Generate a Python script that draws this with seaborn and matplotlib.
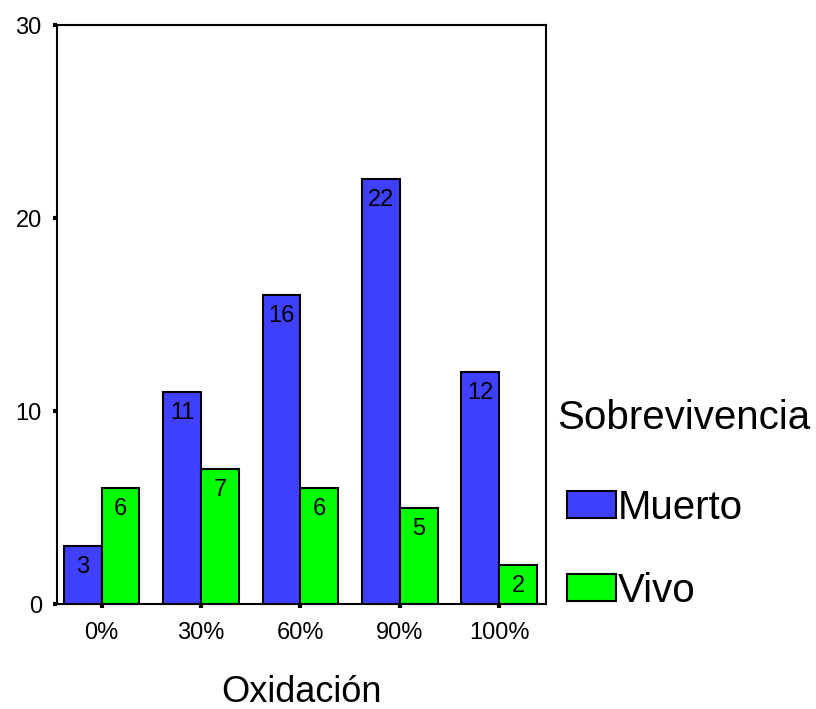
import matplotlib
matplotlib.use("Agg")
import matplotlib.pyplot as plt
import seaborn as sns
import pandas as pd

# Counts of survival outcome by oxidation level
oxidacion = ["0%", "30%", "60%", "90%", "100%"]
muerto = [3, 11, 16, 22, 12]
vivo = [6, 7, 6, 5, 2]
grupos = ["Muerto", "Vivo"]
colores = ["#4040FF", "#00FF00"]

df = pd.DataFrame({
    "Oxidación": oxidacion * 2,
    "n": muerto + vivo,
    "Sobrevivencia": [grupos[0]] * len(oxidacion) + [grupos[1]] * len(oxidacion),
})

sns.set_theme(style="white")
plt.rcParams["font.family"] = ["Liberation Sans", "DejaVu Sans"]
plt.rcParams["text.color"] = "black"
plt.rcParams["axes.labelcolor"] = "black"
plt.rcParams["xtick.color"] = "black"
plt.rcParams["ytick.color"] = "black"

fig = plt.figure(figsize=(8.16, 7.09), dpi=100)
ax = fig.add_axes([0.0699, 0.148, 0.599, 0.8167])

sns.barplot(data=df, x="Oxidación", y="n", hue="Sobrevivencia",
            order=oxidacion, hue_order=grupos, palette=colores,
            saturation=1, width=0.76, gap=0, edgecolor="black",
            linewidth=1.5, errorbar=None, legend=False, ax=ax)

for cont in ax.containers:
    ax.bar_label(cont, labels=[f"{int(v)}" for v in cont.datavalues],
                 label_type="edge", padding=-23, fontsize=17, color="black")

ax.set_ylim(0, 30)
ax.set_xlim(-0.45, 4.47)
ax.set_yticks([0, 10, 20, 30])
ax.tick_params(axis="both", direction="out", length=3, width=3, color="black",
               labelsize=17, left=True, bottom=True)
ax.tick_params(axis="y", pad=8)
ax.tick_params(axis="x", pad=10)
for s in ax.spines.values():
    s.set_visible(True)
    s.set_color("black")
    s.set_linewidth(1.5)

ax.set_ylabel("")
ax.set_xlabel("Oxidación", fontsize=26, labelpad=22)

# legend: title text plus colour swatches
fig.text(557 / 816, 1 - 418 / 709, "Sobrevivencia", fontsize=29,
         ha="left", va="center")
handles = [plt.Rectangle((0, 0), 1, 1, facecolor=c, edgecolor="black",
                         linewidth=1.5) for c in colores]
leg = fig.legend(handles, grupos, loc="center left",
                 bbox_to_anchor=(567 / 816, 1 - 549.5 / 709), frameon=False,
                 fontsize=29, handlelength=1.22, handleheight=0.66,
                 handletextpad=0.05, labelspacing=1.12, borderpad=0,
                 borderaxespad=0)

fig.savefig("out.png", dpi=100)
